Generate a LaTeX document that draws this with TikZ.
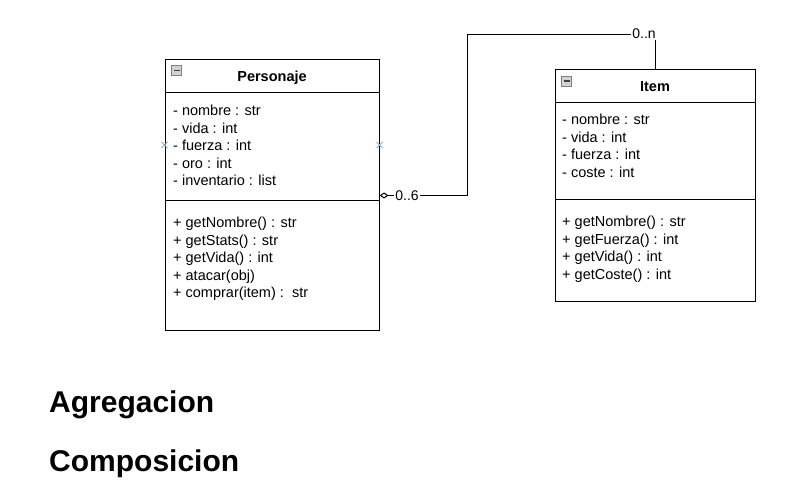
\documentclass[tikz,border=0pt]{standalone}
\usepackage{fontspec}
\setmainfont{Liberation Sans}
\usetikzlibrary{shapes, arrows.meta, positioning}

\begin{document}
\begin{tikzpicture}[
    x=1pt, y=-1pt,
    class/.style={rectangle, draw, line width=1pt, inner sep=0pt},
    title/.style={anchor=base, inner sep=0pt, font=\fontsize{14.5}{17.5}\selectfont\bfseries},
    member/.style={anchor=base west, align=left, inner sep=0pt, font=\fontsize{14.5}{17.5}\selectfont},
    icon/.style={rectangle, draw=gray, fill=gray!35, minimum size=10pt, inner sep=0pt,
        path picture={\draw[black!75, line width=1.2pt] ([xshift=2pt]path picture bounding box.west) -- ([xshift=-2pt]path picture bounding box.east);}},
    port/.style={cross out, draw=cyan!60!blue!50, minimum size=5pt, inner sep=0pt, line width=1pt},
    aggregate/.style={{Diamond[open, length=9pt, width=6pt]}-, line width=1pt},
    mult/.style={fill=white, inner sep=1.5pt, font=\fontsize{14}{16}\selectfont},
    heading/.style={anchor=base west, inner sep=0pt, font=\fontsize{30}{36}\selectfont\bfseries}
]

\fill[white] (0,0) rectangle (803,502);
\useasboundingbox (0,0) rectangle (803,502);

% clases
\node[class, minimum width=214pt, minimum height=271pt] (Personaje) at (272,195.5) {};
\node[class, minimum width=200pt, minimum height=232pt] (Item) at (655,186) {};

\draw[line width=1pt] ([yshift=-33pt]Personaje.north west) -- ([yshift=-33pt]Personaje.north east);
\draw[line width=1pt] ([yshift=-141pt]Personaje.north west) -- ([yshift=-141pt]Personaje.north east);
\draw[line width=1pt] ([yshift=-33pt]Item.north west) -- ([yshift=-33pt]Item.north east);
\draw[line width=1pt] ([yshift=-130pt]Item.north west) -- ([yshift=-130pt]Item.north east);

\node[icon] (PersonajeIcon) at (176.5,70.5) {};
\node[icon] (ItemIcon) at (566.5,81) {};

\node[title] (PersonajeName) at (272,82) {Personaje};
\node[title] (ItemName) at (655,92) {Item};

% la linea base es la de la ultima fila
\node[member] (PersonajeAttr) at (173,186) {- nombre : str\\- vida : int\\- fuerza : int\\- oro : int\\- inventario : list};
\node[member] (PersonajeOps) at (173,298) {+ getNombre() : str\\+ getStats() : str\\+ getVida() : int\\+ atacar(obj)\\+ comprar(item) :~~str};
\node[member] (ItemAttr) at (562,177.5) {- nombre : str\\- vida : int\\- fuerza : int\\- coste : int};
\node[member] (ItemOps) at (562,279.5) {+ getNombre() : str\\+ getFuerza() : int\\+ getVida() : int\\+ getCoste() : int};

\node[port] (portW) at ([yshift=50.5pt]Personaje.west) {};
\node[port] (portE) at ([yshift=50.5pt]Personaje.east) {};

% relacion
\coordinate (elbow) at (467,35);
\draw[aggregate] (Personaje.east) -| (elbow) -| (Item.north);
\node[mult] (multP) at (407,195.5) {0..6};
\node[mult] (multI) at (644,34) {0..n};

% textos
\node[heading] (agreg) at (49,413) {Agregacion};
\node[heading] (compos) at (49,471) {Composicion};

\end{tikzpicture}
\end{document}
